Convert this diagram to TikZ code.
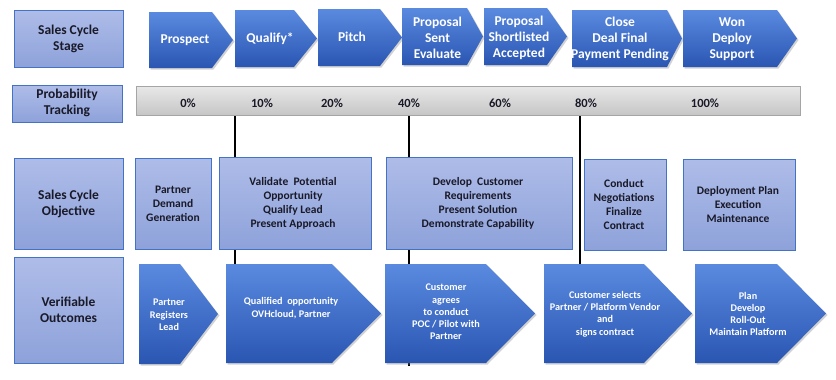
\documentclass[tikz,border=0pt]{standalone}
\usepackage{fontspec}
\setmainfont{Carlito}
\usetikzlibrary{shadows}
\definecolor{lblTop}{RGB}{174,188,232}
\definecolor{lblBot}{RGB}{142,162,218}
\definecolor{boxedge}{RGB}{68,114,196}
\definecolor{chevTop}{RGB}{90,138,224}
\definecolor{chevBot}{RGB}{42,86,178}
\definecolor{barTop}{RGB}{232,232,232}
\definecolor{barBot}{RGB}{198,198,198}
\definecolor{barEdge}{RGB}{165,165,165}
\definecolor{txtDark}{RGB}{25,25,40}
\newcommand{\chevshape}[5]{\path[chev] (#1,#4) -- (#2,#4) -- (#3,{(#4+#5)/2}) -- (#2,#5) -- (#1,#5) -- cycle;}
\begin{document}
\begin{tikzpicture}[x=1pt,y=-1pt,
  lblbox/.style={draw=boxedge, line width=0.9pt, top color=lblTop, bottom color=lblBot},
  chev/.style={top color=chevTop, bottom color=chevBot,
    drop shadow={opacity=0.35, shadow xshift=1.5pt, shadow yshift=-1.5pt}},
  lbltxt/.style={align=center, font=\bfseries\fontsize{13.5}{16}\selectfont, text=txtDark, inner sep=0pt},
  stagetxt/.style={align=center, font=\bfseries\fontsize{13.5}{16}\selectfont, text=white, inner sep=0pt},
  objtxt/.style={align=center, font=\bfseries\fontsize{11.5}{14}\selectfont, text=txtDark, inner sep=0pt},
  outtxt/.style={align=center, font=\bfseries\fontsize{10.2}{12.3}\selectfont, text=white, inner sep=0pt},
  pcttxt/.style={font=\bfseries\fontsize{12.5}{14}\selectfont, text=txtDark, inner sep=0pt},
  tick/.style={draw=black, line width=1.2pt}]
\useasboundingbox (0,0) rectangle (836,380);
\fill[white] (0,0) rectangle (836,380);

% vertical tracking lines (behind)
\coordinate (l10a) at (235,115); \coordinate (l10b) at (235,300);
\coordinate (l40a) at (409,115); \coordinate (l40b) at (409,365.5);
\coordinate (l80a) at (580,115); \coordinate (l80b) at (580,300);
\draw[tick] (l10a) -- (l10b);
\draw[tick] (l40a) -- (l40b);
\draw[tick] (l80a) -- (l80b);

% left labels
\path[lblbox] (14,10) rectangle (123,67);
\node[lbltxt] (lStage) at (68.5,39) {Sales Cycle\\Stage};
\path[lblbox] (12,85) rectangle (122,122);
\node[lbltxt] (lProb) at (67,103) {Probability\\Tracking};
\path[lblbox] (14,158) rectangle (123,249);
\node[lbltxt] (lObj) at (68.5,203.5) {Sales Cycle\\Objective};
\path[lblbox] (14,257) rectangle (123,363);
\node[lbltxt] (lOut) at (68.5,310) {Verifiable\\Outcomes};

% stage chevrons
\chevshape{149}{212}{233}{12}{68}
\node[stagetxt] (sProspect) at (185,40) {Prospect};
\chevshape{235}{294}{317}{10}{67}
\node[stagetxt] (sQualify) at (270,39) {Qualify*};
\chevshape{318}{380}{402}{9}{66}
\node[stagetxt] (sPitch) at (352,37) {Pitch};
\chevshape{402}{467}{483}{8}{65}
\node[stagetxt] (sSent) at (437.5,37.5) {Proposal\\Sent\\Evaluate};
\chevshape{484}{547}{567}{8}{65}
\node[stagetxt] (sShort) at (519,37.5) {Proposal\\Shortlisted\\Accepted};
\chevshape{572}{667}{682}{10}{67}
\node[stagetxt] (sClose) at (620,39) {Close\\Deal Final\\Payment Pending};
\chevshape{683}{777}{797}{10}{67}
\node[stagetxt] (sWon) at (732,39) {Won\\Deploy\\Support};

% probability bar
\path[draw=barEdge, line width=0.8pt, top color=barTop, bottom color=barBot] (136,86) rectangle (800,115);
\node[pcttxt] (p0) at (188,103) {0\%};
\node[pcttxt] (p10) at (262,103) {10\%};
\node[pcttxt] (p20) at (332,103) {20\%};
\node[pcttxt] (p40) at (409,103) {40\%};
\node[pcttxt] (p60) at (500,103) {60\%};
\node[pcttxt] (p80) at (586,103) {80\%};
\node[pcttxt] (p100) at (705,103) {100\%};

% objective boxes
\path[lblbox] (135,158) rectangle (211,249);
\node[objtxt] (oPartner) at (173,204) {Partner\\Demand\\Generation};
\path[lblbox] (219,157) rectangle (371,249);
\node[objtxt] (oValidate) at (293,203) {Validate\ \ Potential\\Opportunity\\Qualify Lead\\Present Approach};
\path[lblbox] (386,157) rectangle (572,249);
\node[objtxt] (oDevelop) at (478,203) {Develop\ \ Customer\\Requirements\\Present Solution\\Demonstrate Capability};
\path[lblbox] (584,159) rectangle (666,250);
\node[objtxt] (oConduct) at (624,205) {Conduct\\Negotiations\\Finalize\\Contract};
\path[lblbox] (683,159) rectangle (795,250);
\node[objtxt] (oDeploy) at (738,205) {Deployment Plan\\Execution\\Maintenance};

% outcome chevrons
\chevshape{139}{180}{218}{264}{364}
\node[outtxt] (vReg) at (169,315) {Partner\\Registers\\Lead};
\chevshape{226}{332}{381}{264}{363}
\node[outtxt] (vQual) at (291,308) {Qualified\ \ opportunity\\OVHcloud, Partner};
\chevshape{385}{486}{535}{264}{363}
\node[outtxt] (vPoc) at (446,312) {Customer\\agrees\\to conduct\\POC / Pilot with\\Partner};
\chevshape{544}{644}{692}{264}{363}
\node[outtxt] (vSel) at (605,314) {Customer selects\\Partner / Platform Vendor\\and\\signs contract};
\chevshape{695}{777}{826}{264}{363}
\node[outtxt] (vPlan) at (748,314) {Plan\\Develop\\Roll-Out\\Maintain Platform};
\end{tikzpicture}
\end{document}
